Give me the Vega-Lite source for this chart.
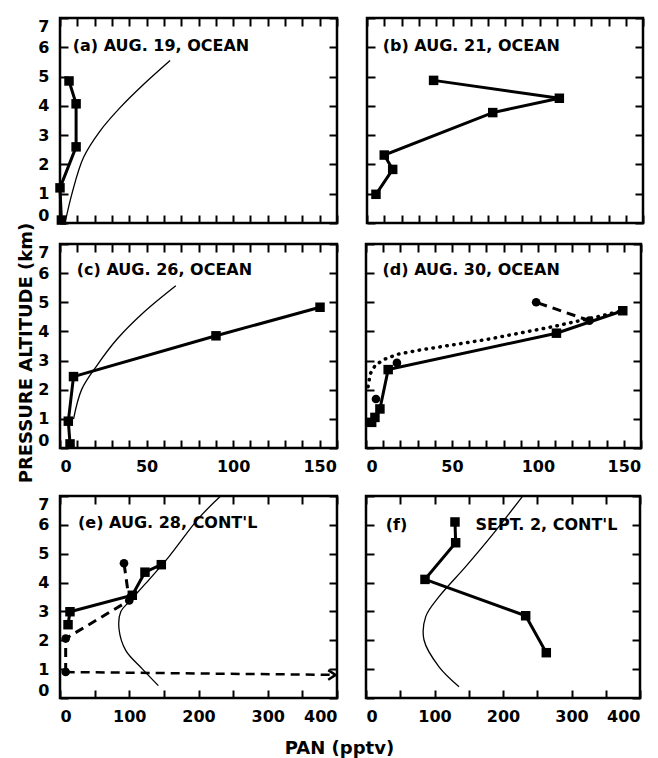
{
  "$schema": "https://vega.github.io/schema/vega-lite/v6.json",
  "background": "white",
  "padding": {"left": 17, "top": 15, "right": 5, "bottom": 0},
  "title": {"text": "PRESSURE ALTITUDE (km)", "orient": "left", "anchor": "middle", "font": "DejaVu Sans", "fontSize": 18, "fontWeight": "bold", "color": "black", "offset": 1, "dx": 34},
  "config": {
    "view": {"stroke": "black", "strokeWidth": 2.5},
    "axis": {"domain": false, "grid": false, "tickColor": "black", "tickWidth": 2, "tickSize": -8, "labelFont": "DejaVu Sans", "labelFontWeight": "bold", "labelFontSize": 16, "labelColor": "black"},
    "axisX": {"labelPadding": 18},
    "axisY": {"labelPadding": 19}
  },
  "data": {"values": [
    {"p": "a", "s": "model", "pan": 2.9, "alt": 0.0},
    {"p": "a", "s": "model", "pan": 6.8, "alt": 0.98},
    {"p": "a", "s": "model", "pan": 13.5, "alt": 2.23},
    {"p": "a", "s": "model", "pan": 23.1, "alt": 3.14},
    {"p": "a", "s": "model", "pan": 34.7, "alt": 3.94},
    {"p": "a", "s": "model", "pan": 48.2, "alt": 4.73},
    {"p": "a", "s": "model", "pan": 63.6, "alt": 5.55},
    {"p": "a", "s": "sq", "pan": 0.8, "alt": 0.1},
    {"p": "a", "s": "sq", "pan": 0.0, "alt": 1.2},
    {"p": "a", "s": "sq", "pan": 9.3, "alt": 2.6},
    {"p": "a", "s": "sq", "pan": 9.3, "alt": 4.07},
    {"p": "a", "s": "sq", "pan": 5.2, "alt": 4.85},
    {"p": "a", "s": "label", "txt": "(a) AUG. 19, OCEAN"},
    {"p": "b", "s": "sq", "pan": 5.2, "alt": 0.98},
    {"p": "b", "s": "sq", "pan": 14.9, "alt": 1.83},
    {"p": "b", "s": "sq", "pan": 10.0, "alt": 2.32},
    {"p": "b", "s": "sq", "pan": 72.9, "alt": 3.77},
    {"p": "b", "s": "sq", "pan": 111.5, "alt": 4.26},
    {"p": "b", "s": "sq", "pan": 38.6, "alt": 4.87},
    {"p": "b", "s": "label", "txt": "(b) AUG. 21, OCEAN"},
    {"p": "c", "s": "model", "pan": 7.8, "alt": 0.99},
    {"p": "c", "s": "model", "pan": 12.6, "alt": 2.02},
    {"p": "c", "s": "model", "pan": 21.3, "alt": 2.83},
    {"p": "c", "s": "model", "pan": 33.0, "alt": 3.74},
    {"p": "c", "s": "model", "pan": 48.4, "alt": 4.66},
    {"p": "c", "s": "model", "pan": 66.9, "alt": 5.57},
    {"p": "c", "s": "sq", "pan": 5.8, "alt": 0.14},
    {"p": "c", "s": "sq", "pan": 4.8, "alt": 0.92},
    {"p": "c", "s": "sq", "pan": 7.8, "alt": 2.45},
    {"p": "c", "s": "sq", "pan": 90.1, "alt": 3.85},
    {"p": "c", "s": "sq", "pan": 150.2, "alt": 4.83},
    {"p": "c", "s": "label", "txt": "(c) AUG. 26, OCEAN"},
    {"p": "d", "s": "sq", "pan": 3.3, "alt": 0.88},
    {"p": "d", "s": "sq", "pan": 5.2, "alt": 1.05},
    {"p": "d", "s": "sq", "pan": 8.1, "alt": 1.34},
    {"p": "d", "s": "sq", "pan": 12.9, "alt": 2.69},
    {"p": "d", "s": "sq", "pan": 110.8, "alt": 3.94},
    {"p": "d", "s": "sq", "pan": 149.4, "alt": 4.71},
    {"p": "d", "s": "ci", "pan": 5.8, "alt": 1.68},
    {"p": "d", "s": "ci", "pan": 18.0, "alt": 2.92},
    {"p": "d", "s": "ci", "seg": 1, "pan": 130.0, "alt": 4.37},
    {"p": "d", "s": "ci", "seg": 1, "pan": 99.0, "alt": 5.0},
    {"p": "d", "s": "dot", "pan": 1.2, "alt": 2.1},
    {"p": "d", "s": "dot", "pan": 2.5, "alt": 2.55},
    {"p": "d", "s": "dot", "pan": 5.5, "alt": 2.85},
    {"p": "d", "s": "dot", "pan": 11.0, "alt": 3.05},
    {"p": "d", "s": "dot", "pan": 18.7, "alt": 3.22},
    {"p": "d", "s": "dot", "pan": 31.3, "alt": 3.36},
    {"p": "d", "s": "dot", "pan": 69.9, "alt": 3.72},
    {"p": "d", "s": "dot", "pan": 108.5, "alt": 4.16},
    {"p": "d", "s": "dot", "pan": 137.4, "alt": 4.54},
    {"p": "d", "s": "dot", "pan": 149.4, "alt": 4.72},
    {"p": "d", "s": "label", "txt": "(d) AUG. 30, OCEAN"},
    {"p": "e", "s": "model", "pan": 142.0, "alt": 0.43},
    {"p": "e", "s": "model", "pan": 118.8, "alt": 1.01},
    {"p": "e", "s": "model", "pan": 94.9, "alt": 1.65},
    {"p": "e", "s": "model", "pan": 85.2, "alt": 2.4},
    {"p": "e", "s": "model", "pan": 87.7, "alt": 2.99},
    {"p": "e", "s": "model", "pan": 99.6, "alt": 3.33},
    {"p": "e", "s": "model", "pan": 123.8, "alt": 3.97},
    {"p": "e", "s": "model", "pan": 157.4, "alt": 4.9},
    {"p": "e", "s": "model", "pan": 200.7, "alt": 6.24},
    {"p": "e", "s": "model", "pan": 232.0, "alt": 7.0},
    {"p": "e", "s": "sq", "pan": 11.6, "alt": 2.54},
    {"p": "e", "s": "sq", "pan": 14.4, "alt": 2.99},
    {"p": "e", "s": "sq", "pan": 104.4, "alt": 3.56},
    {"p": "e", "s": "sq", "pan": 122.7, "alt": 4.36},
    {"p": "e", "s": "sq", "pan": 146.3, "alt": 4.62},
    {"p": "e", "s": "ci", "seg": 1, "pan": 8.2, "alt": 0.9},
    {"p": "e", "s": "ci", "seg": 1, "pan": 8.2, "alt": 2.06},
    {"p": "e", "s": "ci", "seg": 1, "pan": 100.0, "alt": 3.38},
    {"p": "e", "s": "ci", "seg": 1, "pan": 92.4, "alt": 4.67},
    {"p": "e", "s": "arrow", "pan": 8.2, "alt": 0.9},
    {"p": "e", "s": "arrow", "pan": 398.0, "alt": 0.8},
    {"p": "e", "s": "label", "txt": "(e) AUG. 28, CONT'L"},
    {"p": "f", "s": "model", "pan": 135.8, "alt": 0.39},
    {"p": "f", "s": "model", "pan": 106.6, "alt": 1.08},
    {"p": "f", "s": "model", "pan": 84.7, "alt": 2.01},
    {"p": "f", "s": "model", "pan": 87.2, "alt": 2.82},
    {"p": "f", "s": "model", "pan": 106.6, "alt": 3.51},
    {"p": "f", "s": "model", "pan": 145.5, "alt": 4.55},
    {"p": "f", "s": "model", "pan": 184.4, "alt": 5.65},
    {"p": "f", "s": "model", "pan": 228.2, "alt": 6.98},
    {"p": "f", "s": "sq", "pan": 263.2, "alt": 1.57},
    {"p": "f", "s": "sq", "pan": 233.1, "alt": 2.85},
    {"p": "f", "s": "sq", "pan": 86.1, "alt": 4.11},
    {"p": "f", "s": "sq", "pan": 130.9, "alt": 5.38},
    {"p": "f", "s": "sq", "pan": 129.9, "alt": 6.1},
    {"p": "f", "s": "label", "txt": "(f)"},
    {"p": "f", "s": "label", "txt": "SEPT. 2, CONT'L"}
  ]},
  "spacing": 16,
  "vconcat": [
   {"spacing": 13,
    "vconcat": [
    {"hconcat": [
      {"width": 277, "height": 205,
       "transform": [{"filter": "datum.p === 'a'"}],
       "resolve": {"axis": {"x": "independent", "y": "independent"}},
       "layer": [
        {"transform": [{"filter": "datum.s === 'model'"}],
         "mark": {"type": "line", "color": "black", "strokeWidth": 1.3, "interpolate": "catmull-rom"},
         "encoding": {"x": {"field": "pan", "type": "quantitative", "scale": {"domain": [0, 160], "nice": false}, "axis": null},
                      "y": {"field": "alt", "type": "quantitative", "scale": {"domain": [0, 7], "nice": false}, "axis": null},
                      "order": {"field": "alt", "type": "quantitative"}}},
        {"transform": [{"filter": "datum.s === 'sq'"}],
         "mark": {"type": "line", "color": "black", "strokeWidth": 3},
         "encoding": {"x": {"field": "pan", "type": "quantitative", "scale": {"domain": [0, 160], "nice": false}, "axis": {"orient": "bottom", "title": null, "values": [0,10,20,30,40,50,60,70,80,90,100,110,120,130,140,150,160], "labels": false}},
                      "y": {"field": "alt", "type": "quantitative", "scale": {"domain": [0, 7], "nice": false}, "axis": {"orient": "left", "title": null, "values": [0,1,2,3,4,5,6,7], "labelFlush": true, "labelOverlap": false}},
                      "order": {"field": "alt", "type": "quantitative"}}},
        {"transform": [{"filter": "datum.s === 'sq'"}],
         "mark": {"type": "point", "shape": "square", "filled": true, "color": "black", "size": 90, "opacity": 1},
         "encoding": {"x": {"field": "pan", "type": "quantitative", "scale": {"domain": [0, 160], "nice": false}, "axis": {"orient": "top", "title": null, "values": [0,10,20,30,40,50,60,70,80,90,100,110,120,130,140,150,160], "labels": false}},
                      "y": {"field": "alt", "type": "quantitative", "scale": {"domain": [0, 7], "nice": false}, "axis": {"orient": "right", "title": null, "values": [0,1,2,3,4,5,6,7], "labels": false}}}},
        {"transform": [{"filter": "datum.s === 'label'"}],
         "mark": {"type": "text", "align": "left", "baseline": "middle", "font": "DejaVu Sans", "fontWeight": "bold", "fontSize": 16, "color": "black"},
         "encoding": {"x": {"datum": 7.3, "type": "quantitative", "scale": {"domain": [0, 160], "nice": false}, "axis": null},
                      "y": {"datum": 6.05, "type": "quantitative", "scale": {"domain": [0, 7], "nice": false}, "axis": null},
                      "text": {"field": "txt"}}}
       ]},
      {"width": 276, "height": 205,
       "transform": [{"filter": "datum.p === 'b'"}],
       "resolve": {"axis": {"x": "independent", "y": "independent"}},
       "layer": [
        {"transform": [{"filter": "datum.s === 'sq'"}],
         "mark": {"type": "line", "color": "black", "strokeWidth": 3},
         "encoding": {"x": {"field": "pan", "type": "quantitative", "scale": {"domain": [0, 160], "nice": false}, "axis": {"orient": "bottom", "title": null, "values": [0,10,20,30,40,50,60,70,80,90,100,110,120,130,140,150,160], "labels": false}},
                      "y": {"field": "alt", "type": "quantitative", "scale": {"domain": [0, 7], "nice": false}, "axis": {"orient": "left", "title": null, "values": [0,1,2,3,4,5,6,7], "labels": false}},
                      "order": {"field": "alt", "type": "quantitative"}}},
        {"transform": [{"filter": "datum.s === 'sq'"}],
         "mark": {"type": "point", "shape": "square", "filled": true, "color": "black", "size": 90, "opacity": 1},
         "encoding": {"x": {"field": "pan", "type": "quantitative", "scale": {"domain": [0, 160], "nice": false}, "axis": {"orient": "top", "title": null, "values": [0,10,20,30,40,50,60,70,80,90,100,110,120,130,140,150,160], "labels": false}},
                      "y": {"field": "alt", "type": "quantitative", "scale": {"domain": [0, 7], "nice": false}, "axis": {"orient": "right", "title": null, "values": [0,1,2,3,4,5,6,7], "labels": false}}}},
        {"transform": [{"filter": "datum.s === 'label'"}],
         "mark": {"type": "text", "align": "left", "baseline": "middle", "font": "DejaVu Sans", "fontWeight": "bold", "fontSize": 16, "color": "black"},
         "encoding": {"x": {"datum": 9.1, "type": "quantitative", "scale": {"domain": [0, 160], "nice": false}, "axis": null},
                      "y": {"datum": 6.05, "type": "quantitative", "scale": {"domain": [0, 7], "nice": false}, "axis": null},
                      "text": {"field": "txt"}}}
       ]}
    ], "spacing": 24},
    {"hconcat": [
      {"width": 277, "height": 204,
       "transform": [{"filter": "datum.p === 'c'"}],
       "resolve": {"axis": {"x": "independent", "y": "independent"}},
       "layer": [
        {"transform": [{"filter": "datum.s === 'model'"}],
         "mark": {"type": "line", "color": "black", "strokeWidth": 1.3, "interpolate": "catmull-rom"},
         "encoding": {"x": {"field": "pan", "type": "quantitative", "scale": {"domain": [0, 160], "nice": false}, "axis": null},
                      "y": {"field": "alt", "type": "quantitative", "scale": {"domain": [0, 7], "nice": false}, "axis": null},
                      "order": {"field": "alt", "type": "quantitative"}}},
        {"transform": [{"filter": "datum.s === 'sq'"}],
         "mark": {"type": "line", "color": "black", "strokeWidth": 3},
         "encoding": {"x": {"field": "pan", "type": "quantitative", "scale": {"domain": [0, 160], "nice": false}, "axis": {"orient": "bottom", "title": null, "values": [0,10,20,30,40,50,60,70,80,90,100,110,120,130,140,150,160], "labelExpr": "datum.value % 50 === 0 ? datum.label : ''", "labelOverlap": false}},
                      "y": {"field": "alt", "type": "quantitative", "scale": {"domain": [0, 7], "nice": false}, "axis": {"orient": "left", "title": null, "values": [0,1,2,3,4,5,6,7], "labelFlush": true, "labelOverlap": false}},
                      "order": {"field": "alt", "type": "quantitative"}}},
        {"transform": [{"filter": "datum.s === 'sq'"}],
         "mark": {"type": "point", "shape": "square", "filled": true, "color": "black", "size": 90, "opacity": 1},
         "encoding": {"x": {"field": "pan", "type": "quantitative", "scale": {"domain": [0, 160], "nice": false}, "axis": {"orient": "top", "title": null, "values": [0,10,20,30,40,50,60,70,80,90,100,110,120,130,140,150,160], "labels": false}},
                      "y": {"field": "alt", "type": "quantitative", "scale": {"domain": [0, 7], "nice": false}, "axis": {"orient": "right", "title": null, "values": [0,1,2,3,4,5,6,7], "labels": false}}}},
        {"transform": [{"filter": "datum.s === 'label'"}],
         "mark": {"type": "text", "align": "left", "baseline": "middle", "font": "DejaVu Sans", "fontWeight": "bold", "fontSize": 16, "color": "black"},
         "encoding": {"x": {"datum": 9.7, "type": "quantitative", "scale": {"domain": [0, 160], "nice": false}, "axis": null},
                      "y": {"datum": 6.12, "type": "quantitative", "scale": {"domain": [0, 7], "nice": false}, "axis": null},
                      "text": {"field": "txt"}}}
       ]},
      {"width": 275, "height": 204,
       "transform": [{"filter": "datum.p === 'd'"}],
       "resolve": {"axis": {"x": "independent", "y": "independent"}},
       "layer": [
        {"transform": [{"filter": "datum.s === 'dot'"}],
         "mark": {"type": "line", "color": "black", "strokeWidth": 3.5, "strokeDash": [0.5, 6.5], "strokeCap": "round"},
         "encoding": {"x": {"field": "pan", "type": "quantitative", "scale": {"domain": [0, 160], "nice": false}, "axis": null},
                      "y": {"field": "alt", "type": "quantitative", "scale": {"domain": [0, 7], "nice": false}, "axis": null},
                      "order": {"field": "alt", "type": "quantitative"}}},
        {"transform": [{"filter": "datum.s === 'ci' && datum.seg != null"}],
         "mark": {"type": "line", "color": "black", "strokeWidth": 3, "strokeDash": [9, 6]},
         "encoding": {"x": {"field": "pan", "type": "quantitative", "scale": {"domain": [0, 160], "nice": false}, "axis": null},
                      "y": {"field": "alt", "type": "quantitative", "scale": {"domain": [0, 7], "nice": false}, "axis": null},
                      "order": {"field": "alt", "type": "quantitative"}}},
        {"transform": [{"filter": "datum.s === 'sq'"}],
         "mark": {"type": "line", "color": "black", "strokeWidth": 3},
         "encoding": {"x": {"field": "pan", "type": "quantitative", "scale": {"domain": [0, 160], "nice": false}, "axis": {"orient": "bottom", "title": null, "values": [0,10,20,30,40,50,60,70,80,90,100,110,120,130,140,150,160], "labelExpr": "datum.value % 50 === 0 ? datum.label : ''", "labelOverlap": false}},
                      "y": {"field": "alt", "type": "quantitative", "scale": {"domain": [0, 7], "nice": false}, "axis": {"orient": "left", "title": null, "values": [0,1,2,3,4,5,6,7], "labels": false}},
                      "order": {"field": "alt", "type": "quantitative"}}},
        {"transform": [{"filter": "datum.s === 'sq'"}],
         "mark": {"type": "point", "shape": "square", "filled": true, "color": "black", "size": 90, "opacity": 1},
         "encoding": {"x": {"field": "pan", "type": "quantitative", "scale": {"domain": [0, 160], "nice": false}, "axis": {"orient": "top", "title": null, "values": [0,10,20,30,40,50,60,70,80,90,100,110,120,130,140,150,160], "labels": false}},
                      "y": {"field": "alt", "type": "quantitative", "scale": {"domain": [0, 7], "nice": false}, "axis": {"orient": "right", "title": null, "values": [0,1,2,3,4,5,6,7], "labels": false}}}},
        {"transform": [{"filter": "datum.s === 'ci'"}],
         "mark": {"type": "point", "shape": "circle", "filled": true, "color": "black", "size": 75, "opacity": 1},
         "encoding": {"x": {"field": "pan", "type": "quantitative", "scale": {"domain": [0, 160], "nice": false}, "axis": null},
                      "y": {"field": "alt", "type": "quantitative", "scale": {"domain": [0, 7], "nice": false}, "axis": null}}},
        {"transform": [{"filter": "datum.s === 'label'"}],
         "mark": {"type": "text", "align": "left", "baseline": "middle", "font": "DejaVu Sans", "fontWeight": "bold", "fontSize": 16, "color": "black"},
         "encoding": {"x": {"datum": 9.6, "type": "quantitative", "scale": {"domain": [0, 160], "nice": false}, "axis": null},
                      "y": {"datum": 6.12, "type": "quantitative", "scale": {"domain": [0, 7], "nice": false}, "axis": null},
                      "text": {"field": "txt"}}}
       ]}
    ], "spacing": 19}
   ]},
    {"hconcat": [
      {"width": 277, "height": 202,
       "transform": [{"filter": "datum.p === 'e'"}],
       "resolve": {"axis": {"x": "independent", "y": "independent"}},
       "layer": [
        {"transform": [{"filter": "datum.s === 'model'"}],
         "mark": {"type": "line", "color": "black", "strokeWidth": 1.3, "interpolate": "catmull-rom"},
         "encoding": {"x": {"field": "pan", "type": "quantitative", "scale": {"domain": [0, 400], "nice": false}, "axis": null},
                      "y": {"field": "alt", "type": "quantitative", "scale": {"domain": [0, 7], "nice": false}, "axis": null},
                      "order": {"field": "alt", "type": "quantitative"}}},
        {"transform": [{"filter": "datum.s === 'arrow'"}],
         "mark": {"type": "line", "color": "black", "strokeWidth": 2.5, "strokeDash": [9, 6]},
         "encoding": {"x": {"field": "pan", "type": "quantitative", "scale": {"domain": [0, 400], "nice": false}, "axis": null},
                      "y": {"field": "alt", "type": "quantitative", "scale": {"domain": [0, 7], "nice": false}, "axis": null}}},
        {"transform": [{"filter": "datum.s === 'arrow' && datum.pan > 300"}],
         "mark": {"type": "point", "shape": "M-1,-0.65L0,0L-1,0.65", "filled": false, "color": "black", "strokeWidth": 2.5, "size": 220, "opacity": 1},
         "encoding": {"x": {"field": "pan", "type": "quantitative", "scale": {"domain": [0, 400], "nice": false}, "axis": null},
                      "y": {"field": "alt", "type": "quantitative", "scale": {"domain": [0, 7], "nice": false}, "axis": null}}},
        {"transform": [{"filter": "datum.s === 'ci' && datum.seg != null"}],
         "mark": {"type": "line", "color": "black", "strokeWidth": 3, "strokeDash": [9, 6]},
         "encoding": {"x": {"field": "pan", "type": "quantitative", "scale": {"domain": [0, 400], "nice": false}, "axis": null},
                      "y": {"field": "alt", "type": "quantitative", "scale": {"domain": [0, 7], "nice": false}, "axis": null},
                      "order": {"field": "alt", "type": "quantitative"}}},
        {"transform": [{"filter": "datum.s === 'sq'"}],
         "mark": {"type": "line", "color": "black", "strokeWidth": 3},
         "encoding": {"x": {"field": "pan", "type": "quantitative", "scale": {"domain": [0, 400], "nice": false}, "axis": {"orient": "bottom", "title": null, "values": [0,50,100,150,200,250,300,350,400], "labelExpr": "datum.value % 100 === 0 ? datum.label : ''", "labelOverlap": false}},
                      "y": {"field": "alt", "type": "quantitative", "scale": {"domain": [0, 7], "nice": false}, "axis": {"orient": "left", "title": null, "values": [0,1,2,3,4,5,6,7], "labelFlush": true, "labelOverlap": false}},
                      "order": {"field": "alt", "type": "quantitative"}}},
        {"transform": [{"filter": "datum.s === 'sq'"}],
         "mark": {"type": "point", "shape": "square", "filled": true, "color": "black", "size": 90, "opacity": 1},
         "encoding": {"x": {"field": "pan", "type": "quantitative", "scale": {"domain": [0, 400], "nice": false}, "axis": {"orient": "top", "title": null, "values": [0,50,100,150,200,250,300,350,400], "labels": false}},
                      "y": {"field": "alt", "type": "quantitative", "scale": {"domain": [0, 7], "nice": false}, "axis": {"orient": "right", "title": null, "values": [0,1,2,3,4,5,6,7], "labels": false}}}},
        {"transform": [{"filter": "datum.s === 'ci'"}],
         "mark": {"type": "point", "shape": "circle", "filled": true, "color": "black", "size": 75, "opacity": 1},
         "encoding": {"x": {"field": "pan", "type": "quantitative", "scale": {"domain": [0, 400], "nice": false}, "axis": null},
                      "y": {"field": "alt", "type": "quantitative", "scale": {"domain": [0, 7], "nice": false}, "axis": null}}},
        {"transform": [{"filter": "datum.s === 'label'"}],
         "mark": {"type": "text", "align": "left", "baseline": "middle", "font": "DejaVu Sans", "fontWeight": "bold", "fontSize": 16, "color": "black"},
         "encoding": {"x": {"datum": 26, "type": "quantitative", "scale": {"domain": [0, 400], "nice": false}, "axis": null},
                      "y": {"datum": 6.05, "type": "quantitative", "scale": {"domain": [0, 7], "nice": false}, "axis": null},
                      "text": {"field": "txt"}}}
       ]},
      {"width": 274, "height": 202,
       "transform": [{"filter": "datum.p === 'f'"}],
       "resolve": {"axis": {"x": "independent", "y": "independent"}},
       "layer": [
        {"transform": [{"filter": "datum.s === 'model'"}],
         "mark": {"type": "line", "color": "black", "strokeWidth": 1.3, "interpolate": "catmull-rom"},
         "encoding": {"x": {"field": "pan", "type": "quantitative", "scale": {"domain": [0, 400], "nice": false}, "axis": null},
                      "y": {"field": "alt", "type": "quantitative", "scale": {"domain": [0, 7], "nice": false}, "axis": null},
                      "order": {"field": "alt", "type": "quantitative"}}},
        {"transform": [{"filter": "datum.s === 'sq'"}],
         "mark": {"type": "line", "color": "black", "strokeWidth": 3},
         "encoding": {"x": {"field": "pan", "type": "quantitative", "scale": {"domain": [0, 400], "nice": false}, "axis": {"orient": "bottom", "title": null, "values": [0,50,100,150,200,250,300,350,400], "labelExpr": "datum.value % 100 === 0 ? datum.label : ''", "labelOverlap": false}},
                      "y": {"field": "alt", "type": "quantitative", "scale": {"domain": [0, 7], "nice": false}, "axis": {"orient": "left", "title": null, "values": [0,1,2,3,4,5,6,7], "labels": false}},
                      "order": {"field": "alt", "type": "quantitative"}}},
        {"transform": [{"filter": "datum.s === 'sq'"}],
         "mark": {"type": "point", "shape": "square", "filled": true, "color": "black", "size": 90, "opacity": 1},
         "encoding": {"x": {"field": "pan", "type": "quantitative", "scale": {"domain": [0, 400], "nice": false}, "axis": {"orient": "top", "title": null, "values": [0,50,100,150,200,250,300,350,400], "labels": false}},
                      "y": {"field": "alt", "type": "quantitative", "scale": {"domain": [0, 7], "nice": false}, "axis": {"orient": "right", "title": null, "values": [0,1,2,3,4,5,6,7], "labels": false}}}},
        {"transform": [{"filter": "datum.s === 'label' && datum.txt === '(f)'"}],
         "mark": {"type": "text", "align": "left", "baseline": "middle", "font": "DejaVu Sans", "fontWeight": "bold", "fontSize": 16, "color": "black"},
         "encoding": {"x": {"datum": 28.8, "type": "quantitative", "scale": {"domain": [0, 400], "nice": false}, "axis": null},
                      "y": {"datum": 6.0, "type": "quantitative", "scale": {"domain": [0, 7], "nice": false}, "axis": null},
                      "text": {"field": "txt"}}},
        {"transform": [{"filter": "datum.s === 'label' && datum.txt !== '(f)'"}],
         "mark": {"type": "text", "align": "left", "baseline": "middle", "font": "DejaVu Sans", "fontWeight": "bold", "fontSize": 16, "color": "black"},
         "encoding": {"x": {"datum": 160, "type": "quantitative", "scale": {"domain": [0, 400], "nice": false}, "axis": null},
                      "y": {"datum": 6.0, "type": "quantitative", "scale": {"domain": [0, 7], "nice": false}, "axis": null},
                      "text": {"field": "txt"}}}
       ]}
    ], "spacing": 21,
     "title": {"text": "PAN (pptv)", "orient": "bottom", "anchor": "middle", "font": "DejaVu Sans", "fontSize": 18, "fontWeight": "bold", "color": "black", "offset": 15}}
  ]
}
